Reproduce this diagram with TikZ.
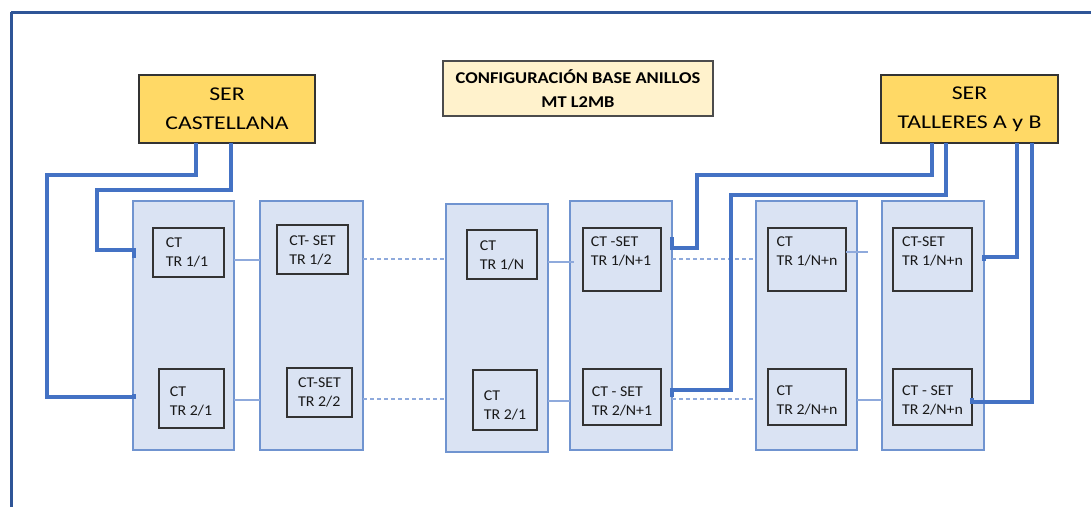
\documentclass[tikz,border=0pt]{standalone}
\usepackage{fontspec}
\setmainfont{Carlito}
\newfontfamily\serfont[FakeStretch=1.22]{Carlito}
\newfontfamily\titlefont[FakeStretch=1.12]{Carlito}
\newfontfamily\inlblfont[FakeStretch=1.06]{Carlito}
\definecolor{framec}{HTML}{2F5597}
\definecolor{feedc}{HTML}{4472C4}
\definecolor{colfill}{HTML}{DAE3F3}
\definecolor{coledge}{HTML}{7094D0}
\definecolor{linkc}{HTML}{8FAADC}
\definecolor{goldc}{HTML}{FFD966}
\definecolor{creamc}{HTML}{FFF2CC}
\definecolor{boxedge}{HTML}{333333}
\tikzset{
  colbox/.style={draw=coledge, fill=colfill, line width=1.3pt, anchor=north west, inner sep=0pt, outer sep=0pt},
  ctbox/.style={draw=boxedge, line width=1.6pt, anchor=north west, inner sep=0pt, outer sep=0pt},
  lbl/.style={align=left, inner sep=0pt, font=\inlblfont\fontsize{15}{19}\selectfont, text=black!90},
  serbox/.style={draw=boxedge, fill=goldc, line width=1.4pt, inner sep=0pt, outer sep=0pt, align=center, font=\serfont\fontsize{19.5}{29}\selectfont},
  titlebox/.style={draw=black!70, fill=creamc, line width=1.3pt, inner sep=0pt, outer sep=0pt, align=center, font=\titlefont\bfseries\fontsize{16.5}{24}\selectfont},
  link/.style={draw=linkc, line width=1.1pt},
  dlink/.style={draw=linkc, line width=1.1pt, dash pattern=on 4pt off 3pt},
  feed/.style={draw=feedc, line width=3.3pt},
  frameline/.style={draw=framec, line width=3pt}
}
\begin{document}
\begin{tikzpicture}[x=1pt,y=-1pt]
\useasboundingbox (0,0) rectangle (1091,506);
\clip (0,0) rectangle (1091,506);
\fill[white] (0,0) rectangle (1091,506);
% frame
\coordinate (fr) at (11,12);
\draw[frameline] (fr) -- (1100,12);
\draw[frameline] (fr) -- (11,520);
% header boxes
\node[serbox, minimum width=176pt, minimum height=68pt] (ser1) at (227,109) {SER\\CASTELLANA};
\node[titlebox, minimum width=270pt, minimum height=55pt] (title) at (578,88.5) {CONFIGURACIÓN BASE ANILLOS\\MT L2MB};
\node[serbox, minimum width=177pt, minimum height=68pt] (ser2) at (969.5,109) {SER\\TALLERES A y B};
% columns
\node[colbox, minimum width=101pt, minimum height=249pt] (c1) at (133,201) {};
\node[colbox, minimum width=103pt, minimum height=249pt] (c2) at (260,201) {};
\node[colbox, minimum width=102pt, minimum height=248pt] (c3) at (446,204) {};
\node[colbox, minimum width=102pt, minimum height=249pt] (c4) at (570,201) {};
\node[colbox, minimum width=101pt, minimum height=249pt] (c5) at (756,201) {};
\node[colbox, minimum width=102pt, minimum height=249pt] (c6) at (882,201) {};
% inner boxes
\node[ctbox, minimum width=71pt, minimum height=49pt] (t1) at (153,228) {};
\node[ctbox, minimum width=65pt, minimum height=59pt] (b1) at (159,369) {};
\node[ctbox, minimum width=71pt, minimum height=49pt] (t2) at (277,225) {};
\node[ctbox, minimum width=65pt, minimum height=49pt] (b2) at (287,368) {};
\node[ctbox, minimum width=70pt, minimum height=49pt] (t3) at (467,230) {};
\node[ctbox, minimum width=64pt, minimum height=60pt] (b3) at (473,370) {};
\node[ctbox, minimum width=78pt, minimum height=63pt] (t4) at (583,228) {};
\node[ctbox, minimum width=78pt, minimum height=56pt] (b4) at (583,369) {};
\node[ctbox, minimum width=78pt, minimum height=63pt] (t5) at (768,228) {};
\node[ctbox, minimum width=78pt, minimum height=56pt] (b5) at (768,369) {};
\node[ctbox, minimum width=79pt, minimum height=63pt] (t6) at (893,228) {};
\node[ctbox, minimum width=79pt, minimum height=56pt] (b6) at (893,369) {};
% labels
\node[lbl] (lt1) at (187,252.5) {CT\\TR 1/1};
\node[lbl] (lb1) at (191,401.5) {CT\\TR 2/1};
\node[lbl] (lt2) at (312.5,250) {CT- SET\\TR 1/2};
\node[lbl] (lb2) at (319.5,392) {CT-SET\\TR 2/2};
\node[lbl] (lt3) at (502,255) {CT\\TR 1/N};
\node[lbl] (lb3) at (505,405) {CT\\TR 2/1};
\node[lbl] (lt4) at (621,251) {CT -SET\\TR 1/N+1};
\node[lbl] (lb4) at (622,401) {CT - SET\\TR 2/N+1};
\node[lbl] (lt5) at (807,251) {CT\\TR 1/N+n};
\node[lbl] (lb5) at (807,400) {CT\\TR 2/N+n};
\node[lbl] (lt6) at (932.5,251) {CT-SET\\TR 1/N+n};
\node[lbl] (lb6) at (932.5,400) {CT - SET\\TR 2/N+n};
% link rows
\coordinate (ya) at (0,260);
\coordinate (yb) at (0,259);
\coordinate (yc) at (0,262);
\coordinate (yd) at (0,252);
\coordinate (ye) at (0,400);
\coordinate (yf) at (0,399);
\coordinate (yg) at (0,401);
\draw[link] (c1.east |- ya) -- (c2.west |- ya);
\draw[dlink] (c2.east |- yb) -- (c3.west |- yb);
\draw[link] (c3.east |- yc) -- ([xshift=4pt]c4.west |- yc);
\draw[dlink] (c4.east |- yb) -- (c5.west |- yb);
\draw[link] (t5.east |- yd) -- ([xshift=-14pt]c6.west |- yd);
\draw[link] (c1.east |- ye) -- (c2.west |- ye);
\draw[dlink] (c2.east |- yf) -- (c3.west |- yf);
\draw[link] (c3.east |- yg) -- (c4.west |- yg);
\draw[dlink] (c4.east |- yf) -- (c5.west |- yf);
\draw[link] (c5.east |- ye) -- (c6.west |- ye);
% feeder lines from SER CASTELLANA
\coordinate (e1) at (47,175);
\coordinate (e2) at (0,397);
\draw[feed] ([xshift=57pt]ser1.south west) |- (e1) |- ([xshift=1pt]c1.west |- e2) -- ++(0,-3);
\coordinate (f1) at (97,190);
\coordinate (f2) at (0,250);
\draw[feed] ([xshift=92pt]ser1.south west) |- (f1) |- ([xshift=1pt]c1.west |- f2) -- ++(0,8);
% feeder lines from SER TALLERES
\coordinate (g1) at (697,175);
\coordinate (g2) at (0,248);
\draw[feed] ([xshift=51pt]ser2.south west) |- (g1) |- (c4.east |- g2) -- ++(0,-11);
\coordinate (h1) at (731,195);
\coordinate (h2) at (0,390);
\draw[feed] ([xshift=65pt]ser2.south west) |- (h1) |- (c4.east |- h2) -- ++(0,7);
\coordinate (k1) at (0,257);
\draw[feed] ([xshift=136pt]ser2.south west) |- (c6.east |- k1) -- ++(0,4);
\coordinate (m1) at (0,402);
\draw[feed] ([xshift=151pt]ser2.south west) |- (b6.east |- m1) -- ++(0,-4);
\end{tikzpicture}
\end{document}
